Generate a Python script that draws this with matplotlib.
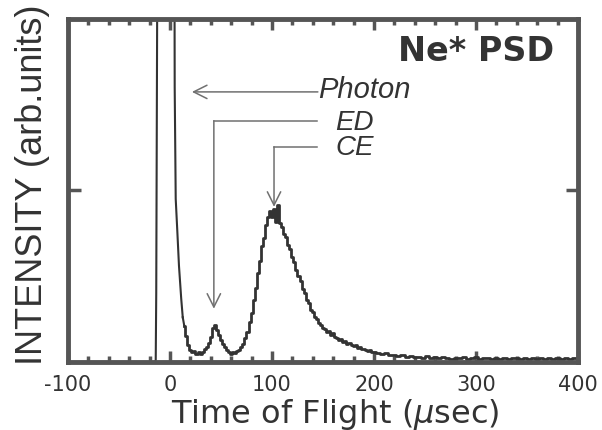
import numpy as np
import matplotlib
matplotlib.use("Agg")
import matplotlib.pyplot as plt

plt.rcParams['font.family'] = ['DejaVu Sans']
plt.rcParams['mathtext.fontset'] = 'dejavusans'

# photon peak (rise and fall, goes off scale)
photon_t = [-15, -14, -13.5, -11.5, 3.9, 4.6, 5.6, 7.2, 8.8, 11.0, 12.5]
photon_y = [0.0, 0.5, 20.0, 200.0, 200.0, 80.0, 47.5, 37.9, 28.0, 18.4, 13.0]

# time-of-flight spectrum, 14..200 usec (2 usec bins)
tof_t1 = list(range(14, 201, 2))
tof_y1 = [10.5, 7.6, 5.0, 3.6, 2.8, 3.2, 2.4, 2.9, 2.2, 3.0,
          3.8, 4.4, 5.6, 7.4, 9.8, 10.9, 9.2, 7.9, 6.3, 5.1,
          4.4, 3.4, 3.0, 2.3, 2.9, 2.5, 3.1, 3.6, 4.2, 5.3,
          6.9, 8.8, 11.6, 14.2, 17.9, 21.5, 25.8, 29.4, 33.8, 36.2,
          39.9, 42.1, 44.0, 42.3, 44.6, 40.8, 45.6, 40.5, 39.2, 37.4,
          36.5, 34.2, 32.9, 30.6, 29.1, 26.8, 25.1, 23.6, 21.2, 20.1,
          18.0, 17.1, 15.2, 14.6, 13.0, 12.4, 11.3, 10.9, 9.9, 9.6,
          8.7, 9.0, 7.9, 8.3, 7.2, 7.0, 6.4, 6.7, 5.9, 6.0,
          5.3, 5.6, 4.9, 4.6, 4.8, 4.1, 4.3, 3.7, 3.9, 3.4,
          3.1, 3.5, 2.8, 2.9]

# tail, 204..400 usec (4 usec bins)
tof_t2 = list(range(204, 401, 4))
tof_y2 = [2.5, 2.2, 2.6, 1.9, 2.0, 1.6, 1.9, 1.4, 1.7, 1.3,
          1.5, 1.1, 1.6, 1.2, 1.4, 1.0, 1.3, 1.1, 0.9, 1.2,
          1.0, 1.3, 0.9, 1.1, 1.4, 0.9, 1.0, 1.2, 0.8, 1.1,
          0.9, 1.2, 0.8, 1.0, 1.1, 0.8, 1.0, 0.9, 1.2, 0.8,
          1.0, 0.9, 1.1, 0.8, 1.0, 0.9, 1.2, 0.8, 1.0, 1.1]

xticks = [-100, 0, 100, 200, 300, 400]

fig = plt.figure(figsize=(6.02, 4.31), dpi=100)
ax = fig.add_axes([0.113, 0.158, 0.847, 0.796])

ax.plot(photon_t, photon_y, color='#333333', lw=1.5)
ax.plot(tof_t1 + tof_t2, tof_y1 + tof_y2, color='#333333', lw=2.0,
        drawstyle='steps-mid')
ax.plot([photon_t[-1], tof_t1[0]], [photon_y[-1], tof_y1[0]], color='#333333', lw=1.5)

ax.set_xlim(-100, 400)
ax.set_ylim(0, 100)
ax.set_xticks(xticks)
ax.set_xticklabels([str(v) for v in xticks])
ax.set_xticks(np.arange(-100, 401, 20), minor=True)
ax.set_yticks([50])
ax.set_yticklabels([])
ax.tick_params(axis='x', which='major', direction='in', top=True, length=8,
               width=2.5, color='#555555', labelsize=15, labelcolor='#333333', pad=9)
ax.tick_params(axis='x', which='minor', direction='in', top=True, length=4.5,
               width=2.5, color='#555555')
ax.tick_params(axis='y', direction='in', right=True, length=9, width=2.5,
               color='#555555')
for s in ax.spines.values():
    s.set_linewidth(3.5)
    s.set_color('#555555')

ax.set_xlabel('Time of Flight ($\\mu$sec)', fontsize=23, color='#333333')
ax.xaxis.set_label_coords(0.525, -0.1)
ax.set_ylabel('INTENSITY (arb.units)', fontsize=26, family='Liberation Sans',
              color='#333333')
ax.yaxis.set_label_coords(-0.035, 0.52)

ax.text(376.5, 88.0, 'Ne* PSD', ha='right', va='baseline', fontsize=24,
        fontweight='bold', color='#333333')

arrow = dict(arrowstyle='->', color='#707070', lw=1.1, mutation_scale=24,
             shrinkA=0, shrinkB=0)
lab = dict(ha='left', va='baseline', style='italic', color='#333333',
           family='Liberation Sans')
# Photon
ax.annotate('', xy=(21.5, 78.7), xytext=(145, 78.7), arrowprops=arrow)
ax.text(145, 77.3, 'Photon', fontsize=21, **lab)
# ED
ax.plot([43, 144], [70.3, 70.3], color='#707070', lw=1.1)
ax.annotate('', xy=(43, 15.5), xytext=(43, 70.3), arrowprops=arrow)
ax.text(162, 67.9, 'ED', fontsize=20, **lab)
# CE
ax.plot([102, 144], [62.7, 62.7], color='#707070', lw=1.1)
ax.annotate('', xy=(102, 45.2), xytext=(102, 62.7), arrowprops=arrow)
ax.text(162, 60.6, 'CE', fontsize=20, **lab)

fig.savefig('out.png', dpi=100)
